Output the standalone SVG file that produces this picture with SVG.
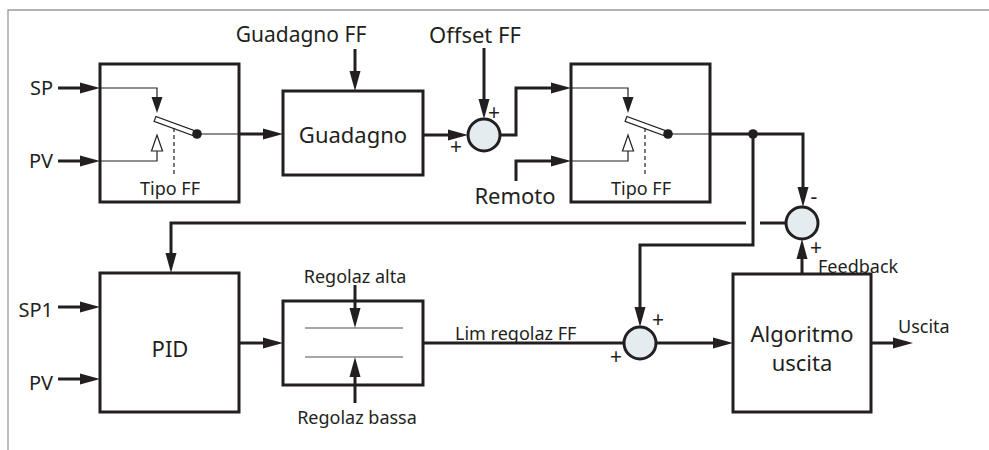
<svg xmlns="http://www.w3.org/2000/svg" xmlns:xlink="http://www.w3.org/1999/xlink" width="989" height="450" viewBox="0 0 989 450">
<style>
.t{font-family:"Noto Sans","Liberation Sans",sans-serif;fill:#231f20}
.big{font-size:22px}
.gff{font-size:21px}
.mid{font-size:20px}
.sm{font-size:18px}
.sign{font-size:21px}
.box{fill:#fff;stroke:#231f20;stroke-width:3}
.thk{fill:none;stroke:#231f20;stroke-width:3}
.thn{fill:none;stroke:#231f20;stroke-width:1.2}
.sum{fill:#e4ecf0;stroke:#231f20;stroke-width:3}
.frame{fill:none;stroke:#9a9a9a;stroke-width:1.3}
</style>
<defs>
<marker id="ah" markerUnits="userSpaceOnUse" markerWidth="22" markerHeight="12" refX="12" refY="5.5" orient="auto" overflow="visible">
<path d="M0,0 L20,5.5 L0,11 z" fill="#231f20"/>
</marker>
<g id="sw">
<path class="thn" d="M100,88 H157 V98"/>
<path d="M151.5,97 L162.5,97 L157,113 z" fill="#231f20"/>
<path class="thn" d="M100,161 H157 V151"/>
<path d="M151.5,151 L162.5,151 L157,135 z" fill="#fff" stroke="#231f20" stroke-width="1.2"/>
<g transform="translate(155,119) rotate(20)"><rect x="0" y="-2.6" width="44" height="5.2" fill="#fff" stroke="#231f20" stroke-width="1.2"/></g>
<circle cx="197" cy="134" r="4.8" fill="#231f20"/>
<path class="thn" d="M197,134 H239"/>
<path class="thn" d="M174,128 V174" stroke-dasharray="4,3"/>
</g>
</defs>
<rect width="989" height="450" fill="#fff"/>
<path class="frame" d="M989,10 H8 V450"/>

<g id="switch1">
<rect class="box" x="100" y="64" width="139" height="138"/>
<use xlink:href="#sw"/>
<text class="t sm" x="170" y="195" text-anchor="middle">Tipo FF</text>
</g>
<g id="guadagno">
<rect class="box" x="283" y="91" width="140" height="84"/>
<text class="t big" x="353" y="143" text-anchor="middle">Guadagno</text>
</g>
<g id="sum1">
<circle class="sum" cx="484" cy="135" r="16"/>
<text class="t sign" x="494" y="120" text-anchor="middle">+</text>
<text class="t sign" x="456" y="154" text-anchor="middle">+</text>
</g>
<g id="switch2">
<rect class="box" x="571" y="64" width="139" height="138"/>
<use xlink:href="#sw" x="471"/>
<text class="t sm" x="641" y="195" text-anchor="middle">Tipo FF</text>
</g>
<g id="sum2">
<circle class="sum" cx="802" cy="223" r="16"/>
<text class="t sign" x="814" y="204" text-anchor="middle">-</text>
<text class="t sign" x="816" y="255" text-anchor="middle">+</text>
</g>
<g id="pid">
<rect class="box" x="100" y="273" width="139" height="139"/>
<text class="t big" x="170" y="357" text-anchor="middle">PID</text>
</g>
<g id="limiter">
<rect class="box" x="283" y="301" width="140" height="84"/>
<path d="M305,328 H403 M305,357 H403" fill="none" stroke="#8a8a8a" stroke-width="1.3"/>
</g>
<g id="sum3">
<circle class="sum" cx="640" cy="343" r="16"/>
<text class="t sign" x="658" y="327" text-anchor="middle">+</text>
<text class="t sign" x="616" y="364" text-anchor="middle">+</text>
</g>
<g id="algoritmo">
<rect class="box" x="733" y="274" width="138" height="138"/>
<text class="t big" x="802" y="342" text-anchor="middle">Algoritmo</text>
<text class="t big" x="802" y="371" text-anchor="middle">uscita</text>
</g>

<g id="labels">
<text class="t mid" x="53" y="95" text-anchor="end">SP</text>
<text class="t mid" x="53" y="168" text-anchor="end">PV</text>
<text class="t mid" x="53" y="317" text-anchor="end">SP1</text>
<text class="t mid" x="53" y="390" text-anchor="end">PV</text>
<text class="t gff" x="301" y="42" text-anchor="middle">Guadagno FF</text>
<text class="t big" x="475" y="43" text-anchor="middle">Offset FF</text>
<text class="t big" x="515" y="204" text-anchor="middle">Remoto</text>
<text class="t sm" x="355" y="283" text-anchor="middle">Regolaz alta</text>
<text class="t sm" x="357" y="424" text-anchor="middle">Regolaz bassa</text>
<text class="t sm" x="455" y="340">Lim regolaz FF</text>
<text class="t sm" x="818" y="273">Feedback</text>
<text class="t sm" x="898" y="333">Uscita</text>
</g>

<g id="connectors">
<path class="thk" d="M58,88 H92" marker-end="url(#ah)"/>
<path class="thk" d="M58,161 H92" marker-end="url(#ah)"/>
<path class="thk" d="M239,134 H275" marker-end="url(#ah)"/>
<path class="thk" d="M355,49 V83" marker-end="url(#ah)"/>
<path class="thk" d="M423,135 H460" marker-end="url(#ah)"/>
<path class="thk" d="M484,48 V111" marker-end="url(#ah)"/>
<path class="thk" d="M500,135 H516 V88 H563" marker-end="url(#ah)"/>
<path class="thk" d="M516,181 V161 H563" marker-end="url(#ah)"/>
<path class="thk" d="M710,134 H803 V199" marker-end="url(#ah)"/>
<circle cx="753" cy="134" r="4.8" fill="#231f20"/>
<path class="thk" d="M753,134 V245 H640 V319" marker-end="url(#ah)"/>
<path class="thk" d="M786,223 H760"/>
<path class="thk" d="M746,223 H171 V265" marker-end="url(#ah)"/>
<path class="thk" d="M802,274 V247" marker-end="url(#ah)"/>
<path class="thk" d="M58,307 H92" marker-end="url(#ah)"/>
<path class="thk" d="M58,379 H92" marker-end="url(#ah)"/>
<path class="thk" d="M239,343 H275" marker-end="url(#ah)"/>
<path class="thk" d="M355,285 V320" marker-end="url(#ah)"/>
<path class="thk" d="M355,403 V365" marker-end="url(#ah)"/>
<path class="thk" d="M423,343 H624"/>
<path class="thk" d="M656,343 H725" marker-end="url(#ah)"/>
<path class="thk" d="M871,343 H905" marker-end="url(#ah)"/>
</g>
</svg>
